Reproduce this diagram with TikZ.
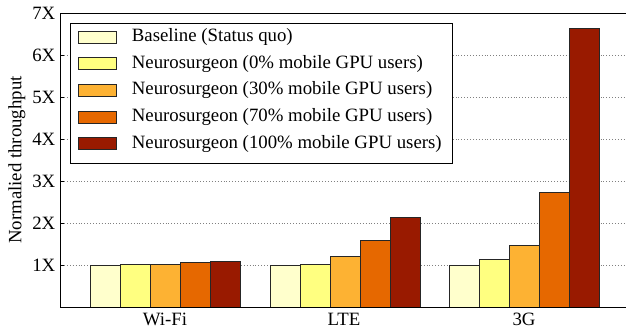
\documentclass[tikz,border=0pt]{standalone}
\usepackage{fontspec}
\setmainfont{Liberation Serif}
\usepackage{xcolor}
\usepackage{tikz}

\definecolor{cBase}{RGB}{255,255,204}
\definecolor{cZero}{RGB}{255,255,128}
\definecolor{cThirty}{RGB}{253,178,51}
\definecolor{cSeventy}{RGB}{230,104,0}
\definecolor{cHundred}{RGB}{153,26,0}

\begin{document}
\begin{tikzpicture}[
    x=1pt, y=1pt,
    font=\fontsize{18.8}{21}\selectfont,
    tputbar/.style={draw=black!85, line width=0.9pt},
    swatch/.style={draw=black!85, line width=0.9pt, minimum width=38pt, minimum height=12pt, inner sep=0pt},
    gridline/.style={gray, dotted, line width=0.9pt},
    ticklabel/.style={anchor=east, inner sep=0pt},
    legtext/.style={anchor=west, inner sep=0pt}
]
\useasboundingbox (0,0) rectangle (626,332);

% grid and y ticks
\foreach \v in {1,...,6}
    \draw[gridline] (64,25+42*\v) -- (626,25+42*\v);
\foreach \v in {1,...,7} {
    \draw[line width=0.8pt] (60,25+42*\v) -- (64,25+42*\v);
    \node[ticklabel] (y\v) at (55.5,25+42*\v) {\v X};
}

% legend
\draw[fill=white, line width=0.8pt] (70,168.7) rectangle (452,309);
\node[swatch, fill=cBase]    (s0) at (97,295)   {};
\node[swatch, fill=cZero]    (s1) at (97,268.3) {};
\node[swatch, fill=cThirty]  (s2) at (97,241.7) {};
\node[swatch, fill=cSeventy] (s3) at (97,215)   {};
\node[swatch, fill=cHundred] (s4) at (97,188.3) {};
\node[legtext] (l0) at (131.7,295)   {Baseline (Status quo)};
\node[legtext] (l1) at (131.7,268.3) {Neurosurgeon (0\% mobile GPU users)};
\node[legtext] (l2) at (131.7,241.7) {Neurosurgeon (30\% mobile GPU users)};
\node[legtext] (l3) at (131.7,215)   {Neurosurgeon (70\% mobile GPU users)};
\node[legtext] (l4) at (131.7,188.3) {Neurosurgeon (100\% mobile GPU users)};

% Wi-Fi
\draw[tputbar, fill=cBase]    (90,25)  rectangle (120,25+42*1.00);
\draw[tputbar, fill=cZero]    (120,25) rectangle (150,25+42*1.01);
\draw[tputbar, fill=cThirty]  (150,25) rectangle (180,25+42*1.02);
\draw[tputbar, fill=cSeventy] (180,25) rectangle (210,25+42*1.05);
\draw[tputbar, fill=cHundred] (210,25) rectangle (240,25+42*1.08);

% LTE
\draw[tputbar, fill=cBase]    (270,25) rectangle (300,25+42*1.00);
\draw[tputbar, fill=cZero]    (300,25) rectangle (330,25+42*1.01);
\draw[tputbar, fill=cThirty]  (330,25) rectangle (360,25+42*1.20);
\draw[tputbar, fill=cSeventy] (360,25) rectangle (390,25+42*1.59);
\draw[tputbar, fill=cHundred] (390,25) rectangle (420,25+42*2.13);

% 3G
\draw[tputbar, fill=cBase]    (449,25) rectangle (479,25+42*1.00);
\draw[tputbar, fill=cZero]    (479,25) rectangle (509,25+42*1.14);
\draw[tputbar, fill=cThirty]  (509,25) rectangle (539,25+42*1.47);
\draw[tputbar, fill=cSeventy] (539,25) rectangle (569,25+42*2.73);
\draw[tputbar, fill=cHundred] (569,25) rectangle (599,25+42*6.63);

% axes
\draw[line width=0.9pt] (626,319) -- (60,319) -- (60,25) -- (626,25);

% labels
\node (wifi) at (165,13) {Wi-Fi};
\node (lte)  at (344,13) {LTE};
\node (g3)   at (524,13) {3G};
\node[rotate=90] (ylab) at (17,172) {Normalied throughput};

\end{tikzpicture}
\end{document}
